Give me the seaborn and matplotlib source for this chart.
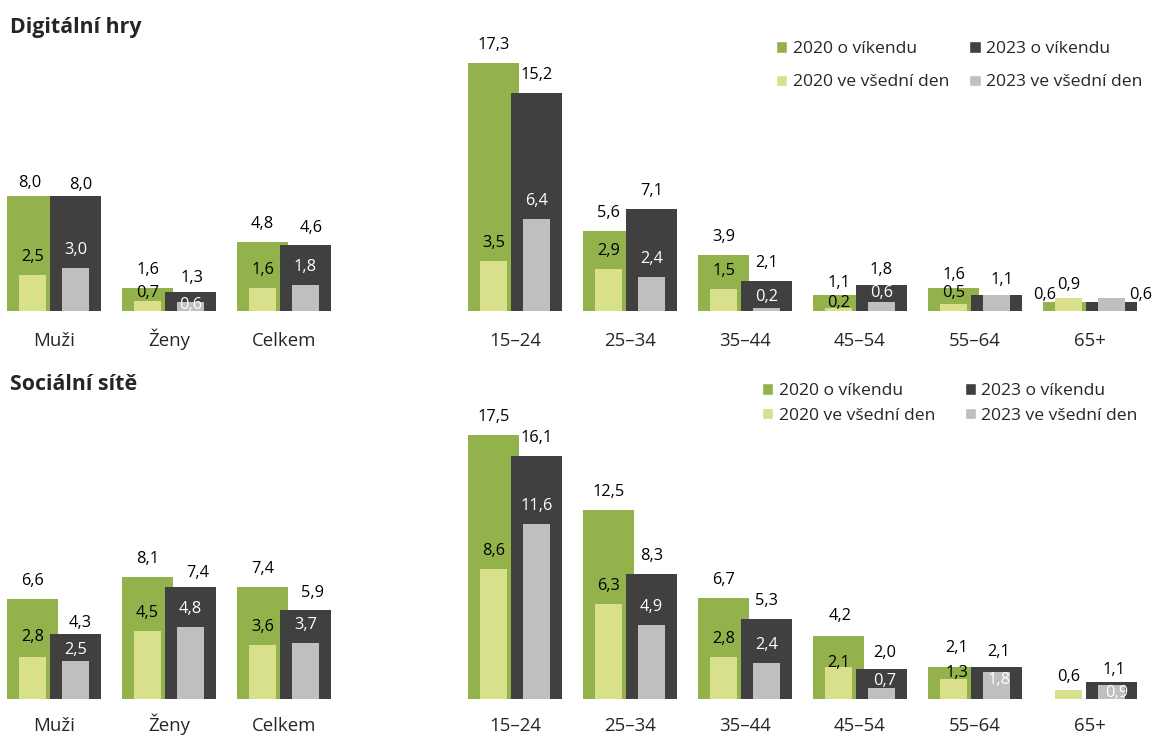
import numpy as np
import pandas as pd
import matplotlib
matplotlib.use("Agg")
import matplotlib.pyplot as plt
from matplotlib.patches import Patch
import seaborn as sns

# ---- data -------------------------------------------------------------
gender_groups = ["Muži", "Ženy", "Celkem"]
age_groups = ["15–24", "25–34", "35–44", "45–54", "55–64", "65+"]

series_names = ["2020 o víkendu", "2023 o víkendu", "2020 ve všední den", "2023 ve všední den"]

# Digitální hry
hry_w20_gender = [8.0, 1.6, 4.8]
hry_w23_gender = [8.0, 1.3, 4.6]
hry_d20_gender = [2.5, 0.7, 1.6]
hry_d23_gender = [3.0, 0.6, 1.8]
hry_w20_age = [17.3, 5.6, 3.9, 1.1, 1.6, 0.6]
hry_w23_age = [15.2, 7.1, 2.1, 1.8, 1.1, 0.6]
hry_d20_age = [3.5, 2.9, 1.5, 0.2, 0.5, 0.9]
hry_d23_age = [6.4, 2.4, 0.2, 0.6, 1.1, 0.9]

# Sociální sítě
site_w20_gender = [6.6, 8.1, 7.4]
site_w23_gender = [4.3, 7.4, 5.9]
site_d20_gender = [2.8, 4.5, 3.6]
site_d23_gender = [2.5, 4.8, 3.7]
site_w20_age = [17.5, 12.5, 6.7, 4.2, 2.1, np.nan]
site_w23_age = [16.1, 8.3, 5.3, 2.0, 2.1, 1.1]
site_d20_age = [8.6, 6.3, 2.8, 2.1, 1.3, 0.6]
site_d23_age = [11.6, 4.9, 2.4, 0.7, 1.8, 0.9]

# ---- style ------------------------------------------------------------
sns.set_style("white")
plt.rcParams["font.family"] = ["Open Sans", "DejaVu Sans"]

GREEN = "#94B24C"
DARK = "#404040"
LIGHT = "#D8E08C"
GRAY = "#BFBFBF"

W, H = 1155, 736
PITCH = 115.0          # pixels between neighbouring groups
WEEKEND_W = 0.45       # bar widths in group units
WEEKDAY_W = 0.23
OFF = 0.187            # half distance between the two bars of a group

LABEL_FS = 11.8
TICK_FS = 13.4
LEGEND_FS = 12.6
TITLE_FS = 15.4

# Per-label tweaks (dx, dy above bar top, in pixels); default is (0, 18).
# None hides a label that would sit on top of an identical one.
label_tweaks = {
    ("hry_g", "w20", 0): (-3, 13), ("hry_g", "w23", 0): (5, 11),
    ("hry_g", "w23", 1): (1, 14), ("hry_g", "d20", 1): (0, 8),
    ("hry_g", "d23", 1): (0, -3), ("hry_g", "w23", 2): (6, 17),
    ("hry_a", "d23", 2): (0, 11),
    ("hry_a", "w20", 3): (0, 12), ("hry_a", "w23", 3): (0, 15),
    ("hry_a", "d20", 3): (0, 5), ("hry_a", "d23", 3): (0, 9),
    ("hry_a", "w20", 4): (0, 13), ("hry_a", "w23", 4): (5, 15),
    ("hry_a", "d20", 4): (0, 11), ("hry_a", "d23", 4): None,
    ("hry_a", "w20", 5): (-24, 7), ("hry_a", "w23", 5): (29, 7),
    ("hry_a", "d20", 5): (0, 13), ("hry_a", "d23", 5): (0, 13),
    ("site_g", "w23", 0): (5, 11), ("site_g", "d20", 0): (0, 20),
    ("site_g", "d23", 0): (0, 11), ("site_g", "w23", 1): (7, 14),
    ("site_g", "w23", 2): (7, 17),
    ("site_a", "w20", 3): (2, 20), ("site_a", "w23", 3): (3, 16),
    ("site_a", "d20", 3): (0, 4), ("site_a", "d23", 3): (3, 7),
    ("site_a", "w20", 4): (3, 19), ("site_a", "w23", 4): (2, 15),
    ("site_a", "d20", 4): (3, 6), ("site_a", "d23", 4): (3, -8),
    ("site_a", "w23", 5): (2, 12), ("site_a", "d20", 5): (0, 13),
    ("site_a", "d23", 5): (5, -8),
}


def fmt(v):
    return f"{v:.1f}".replace(".", ",")


def px_rect(left, top, right, bottom):
    return [left / W, 1 - bottom / H, (right - left) / W, (bottom - top) / H]


def draw_series(ax, values, offset, width, color, z):
    df = pd.DataFrame({"pos": np.arange(len(values)) + offset, "val": values}).dropna()
    sns.barplot(data=df, x="pos", y="val", native_scale=True, orient="x",
                width=width, color=color, saturation=1, errorbar=None,
                linewidth=0, zorder=z, ax=ax)


def panel(ax, key, cats, w20, w23, d20, d23, first_center_px, left_px, right_px, pad):
    series = [
        ("w20", w20, -OFF, WEEKEND_W, GREEN, 2, "black"),
        ("w23", w23, OFF, WEEKEND_W, DARK, 3, "black"),
        ("d20", d20, -OFF, WEEKDAY_W, LIGHT, 4, "black"),
        ("d23", d23, OFF, WEEKDAY_W, GRAY, 5, "white"),
    ]
    for name, vals, off, wd, col, z, tcol in series:
        draw_series(ax, vals, off, wd, col, z)
    for name, vals, off, wd, col, z, tcol in series:
        for i, v in enumerate(vals):
            if np.isnan(v):
                continue
            tw = label_tweaks.get((key, name, i), (0, 18))
            if tw is None:
                continue
            ax.annotate(fmt(v), (i + off, v), xytext=(tw[0], tw[1]),
                        textcoords="offset pixels", ha="center", va="center",
                        fontsize=LABEL_FS, color=tcol, zorder=10,
                        annotation_clip=False)
    ax.set_xticks(range(len(cats)))
    # baseline alignment keeps "Ženy" level with the other labels
    ax.set_xticklabels(cats, fontsize=TICK_FS, va="baseline")
    ax.tick_params(axis="x", length=0, pad=pad)
    ax.set_yticks([])
    ax.set_xlabel("")
    ax.set_ylabel("")
    ax.set_xlim((left_px - first_center_px) / PITCH, (right_px - first_center_px) / PITCH)
    for s in ax.spines.values():
        s.set_visible(False)
    ax.patch.set_alpha(0)


fig = plt.figure(figsize=(W / 100, H / 100), dpi=100)

rows = [
    # key prefix, title, gender data, age data, axes top px, baseline px,
    # px per unit, title y, legend anchor px, label spacing, column spacing, tick pad
    ("hry", "Digitální hry",
     (hry_w20_gender, hry_w23_gender, hry_d20_gender, hry_d23_gender),
     (hry_w20_age, hry_w23_age, hry_d20_age, hry_d23_age),
     40, 311, 14.35, 28, (776, 41), 1.0, 1.15, 25.5),
    ("site", "Sociální sítě",
     (site_w20_gender, site_w23_gender, site_d20_gender, site_d23_gender),
     (site_w20_age, site_w23_age, site_d20_age, site_d23_age),
     420, 699, 15.1, 384, (762, 383), 0.5, 1.7, 23),
]

for key, title, gdata, adata, top, base, ppu, ty, (lx, ly), lsp, csp, pad in rows:
    ymax = (base - top) / ppu
    ax_l = fig.add_axes(px_rect(0, top, 345, base))
    ax_r = fig.add_axes(px_rect(455, top, 1155, base))
    panel(ax_l, key + "_g", gender_groups, *gdata, 54, 0, 345, pad)
    panel(ax_r, key + "_a", age_groups, *adata, 515, 455, 1155, pad)
    ax_l.set_ylim(0, ymax)
    ax_r.set_ylim(0, ymax)
    fig.text(10 / W, 1 - ty / H, title, fontsize=TITLE_FS, fontweight="bold",
             ha="left", va="center")
    handles = [Patch(facecolor=GREEN), Patch(facecolor=LIGHT),
               Patch(facecolor=DARK), Patch(facecolor=GRAY)]
    labels = [series_names[0], series_names[2], series_names[1], series_names[3]]
    fig.legend(handles, labels, ncol=2, loc="upper left",
               bbox_to_anchor=(lx / W, 1 - ly / H), frameon=False,
               fontsize=LEGEND_FS, borderpad=0, borderaxespad=0,
               handlelength=0.65, handleheight=0.65, handletextpad=0.3,
               labelspacing=lsp, columnspacing=csp)

fig.savefig("out.png", dpi=100)
